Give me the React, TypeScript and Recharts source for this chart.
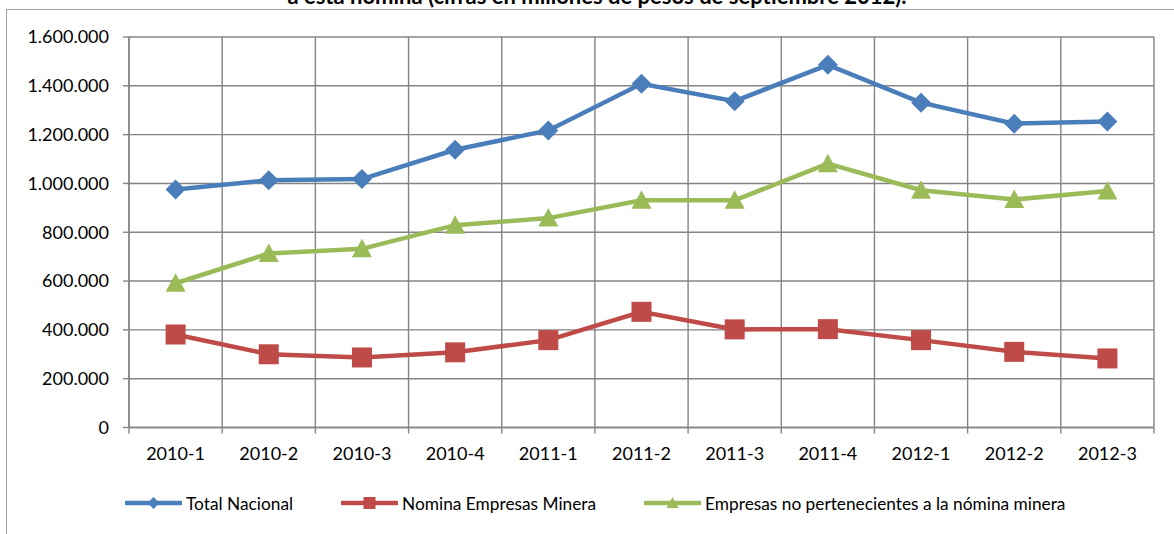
import React from "react";
import { CartesianGrid, Line, LineChart, XAxis, YAxis } from "recharts";

const CATEGORIES = [
  "2010-1", "2010-2", "2010-3", "2010-4",
  "2011-1", "2011-2", "2011-3", "2011-4",
  "2012-1", "2012-2", "2012-3",
];
const TOTAL_NACIONAL = [975000, 1013000, 1018000, 1138000, 1217000, 1408000, 1337000, 1486000, 1331000, 1245000, 1254000];
const NOMINA_MINERA = [381000, 300000, 287000, 308000, 358000, 474000, 402000, 403000, 358000, 310000, 283000];
const NO_NOMINA = [591000, 713000, 732000, 829000, 858000, 931000, 931000, 1081000, 972000, 934000, 969000];
const Y_TICKS = [0, 200000, 400000, 600000, 800000, 1000000, 1200000, 1400000, 1600000];

const TITLE = "a esta nómina (cifras en millones de pesos de septiembre 2012).";

const SERIES = [
  { key: "total", name: "Total Nacional", color: "#4a7ebb", marker: "diamond" },
  { key: "minera", name: "Nomina Empresas Minera", color: "#be4b48", marker: "square" },
  { key: "otras", name: "Empresas no pertenecientes a la nómina minera", color: "#9bbb59", marker: "triangle" },
];

const data = CATEGORIES.map((cat, i) => ({
  cat,
  total: TOTAL_NACIONAL[i],
  minera: NOMINA_MINERA[i],
  otras: NO_NOMINA[i],
}));

// layout
const W = 1174;
const H = 534;
const PLOT_LEFT = 129;
const PLOT_RIGHT = 1154;
const PLOT_TOP = 37;
const PLOT_BOTTOM = 427.5;
const BAND = (PLOT_RIGHT - PLOT_LEFT) / CATEGORIES.length;
const GRID = "#848484";
const FONT = "Lato, 'Open Sans', sans-serif";

const fmt = (v: number) => String(v).replace(/\B(?=(\d{3})+(?!\d))/g, ".");

function Marker({ kind, x, y, size, color }: { kind: string; x: number; y: number; size: number; color: string }) {
  const h = size / 2;
  if (kind === "diamond") {
    return <path d={`M${x},${y - h} L${x + h},${y} L${x},${y + h} L${x - h},${y} Z`} fill={color} />;
  }
  if (kind === "square") {
    return <rect x={x - h} y={y - h} width={size} height={size} fill={color} />;
  }
  return <path d={`M${x},${y - h} L${x + h},${y + h * 0.85} L${x - h},${y + h * 0.85} Z`} fill={color} />;
}

function makeDot(kind: string, color: string, size: number) {
  return (props: any) => {
    const { cx, cy, index } = props;
    if (cx == null || cy == null) return <g key={index} />;
    return (
      <g key={`${kind}-${index}`}>
        <Marker kind={kind} x={cx} y={cy} size={size} color={color} />
      </g>
    );
  };
}

function XTick(props: any) {
  const { x, y, payload, index } = props;
  const axisY = y - 6;
  return (
    <g>
      <line x1={x - BAND / 2} x2={x - BAND / 2} y1={axisY} y2={axisY + 6} stroke={GRID} strokeWidth={1.4} />
      {index === CATEGORIES.length - 1 ? (
        <line x1={x + BAND / 2} x2={x + BAND / 2} y1={axisY} y2={axisY + 6} stroke={GRID} strokeWidth={1.4} />
      ) : null}
      <text x={x} y={axisY + 20} dy="0.71em" textAnchor="middle" fontFamily={FONT} fontSize={18} fill="#000">
        {payload.value}
      </text>
    </g>
  );
}

export default function App() {
  return (
    <div
      style={{
        position: "fixed",
        left: 0,
        top: 0,
        width: W,
        height: H,
        background: "#fff",
        overflow: "hidden",
        fontFamily: FONT,
      }}
    >
      <div
        style={{
          position: "absolute",
          left: 0,
          width: 1194,
          top: -18,
          textAlign: "center",
          fontWeight: 700,
          fontSize: 22,
          whiteSpace: "nowrap",
        }}
      >
        {TITLE}
      </div>
      <div
        style={{
          position: "absolute",
          left: 6,
          top: 9,
          width: 1300,
          height: 700,
          borderLeft: "1.5px solid #a0a0a0",
          borderTop: "1.5px solid #a0a0a0",
        }}
      />
      <div style={{ position: "absolute", left: 0, top: 0 }}>
        <LineChart
          width={W}
          height={H}
          data={data}
          margin={{ top: PLOT_TOP, right: W - PLOT_RIGHT, bottom: 0, left: 0 }}
        >
          <CartesianGrid
            stroke={GRID}
            strokeWidth={1.4}
            verticalCoordinatesGenerator={({ offset }: any) =>
              Array.from({ length: CATEGORIES.length + 1 }, (_, i) => offset.left + (i * offset.width) / CATEGORIES.length)
            }
          />
          <XAxis
            dataKey="cat"
            scale="band"
            height={H - PLOT_BOTTOM}
            interval={0}
            stroke={GRID}
            strokeWidth={1.4}
            tickLine={false}
            tickSize={6}
            tickMargin={0}
            tick={<XTick />}
          />
          <YAxis
            width={PLOT_LEFT}
            domain={[0, 1600000]}
            ticks={Y_TICKS}
            interval={0}
            tickFormatter={fmt}
            stroke={GRID}
            strokeWidth={1.4}
            tickSize={6}
            tickMargin={14}
            tick={{ fill: "#000", fontSize: 18, fontFamily: FONT }}
          />
          {SERIES.map((s) => (
            <Line
              key={s.key}
              dataKey={s.key}
              name={s.name}
              type="linear"
              stroke={s.color}
              strokeWidth={4.5}
              dot={makeDot(s.marker, s.color, 20)}
              activeDot={false}
              isAnimationActive={false}
            />
          ))}
        </LineChart>
      </div>
      <div
        style={{
          position: "absolute",
          left: 125,
          top: 492,
          display: "flex",
          alignItems: "center",
          gap: 48,
          fontSize: 17.3,
          color: "#000",
          whiteSpace: "nowrap",
        }}
      >
        {SERIES.map((s) => (
          <div key={s.key} style={{ display: "flex", alignItems: "center" }}>
            <svg width={57} height={22} style={{ display: "block" }}>
              <line x1={1} x2={56} y1={11} y2={11} stroke={s.color} strokeWidth={4.5} strokeLinecap="round" />
              <Marker kind={s.marker} x={28.5} y={11} size={12} color={s.color} />
            </svg>
            <span style={{ marginLeft: 4 }}>{s.name}</span>
          </div>
        ))}
      </div>
    </div>
  );
}
